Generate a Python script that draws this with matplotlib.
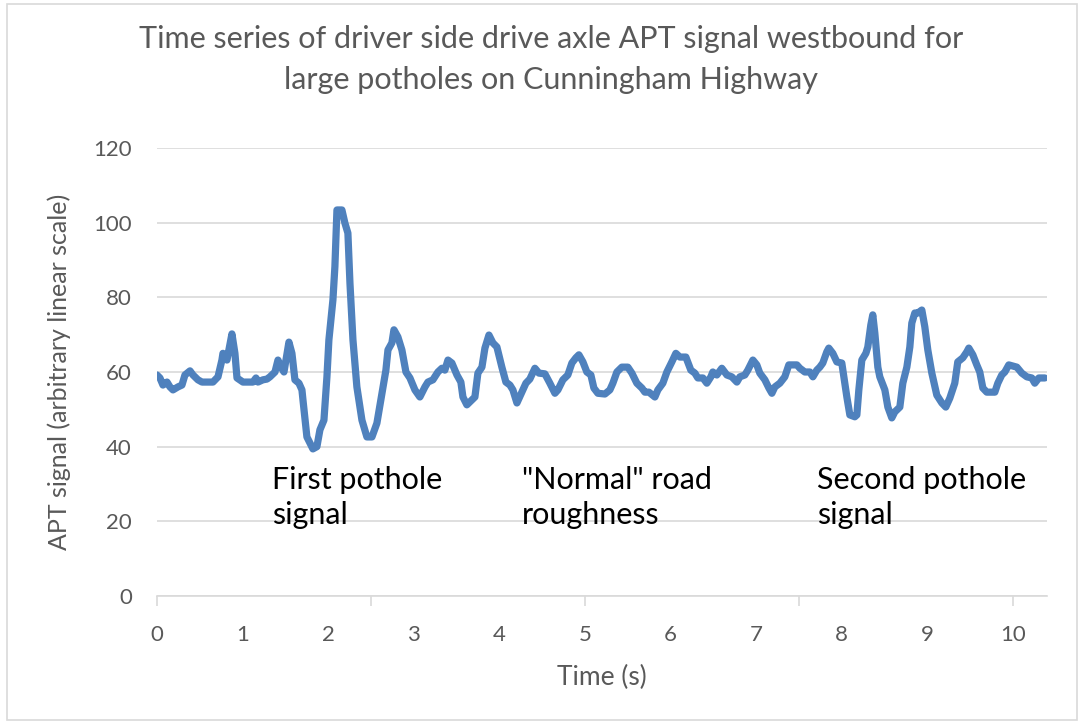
import numpy as np
import matplotlib.pyplot as plt
from matplotlib.patches import Rectangle
from matplotlib.ticker import FixedLocator

# =========================
# Data
# =========================
t = [0.00, 0.035, 0.07, 0.117, 0.152, 0.187, 0.245, 0.292, 0.327, 0.386,
     0.421, 0.479, 0.526, 0.654, 0.713, 0.759, 0.771, 0.818, 0.876, 0.911,
     0.935, 1.005, 1.121, 1.157, 1.18, 1.238, 1.285, 1.32, 1.379, 1.414,
     1.449, 1.484, 1.542, 1.577, 1.612, 1.659, 1.694, 1.706, 1.752, 1.822,
     1.869, 1.904, 1.951, 1.986, 2.009, 2.056, 2.079, 2.103, 2.161, 2.196,
     2.231, 2.255, 2.29, 2.336, 2.395, 2.453, 2.512, 2.57, 2.629, 2.675,
     2.699, 2.745, 2.769, 2.815, 2.862, 2.909, 2.956, 3.014, 3.072, 3.131,
     3.166, 3.224, 3.283, 3.329, 3.364, 3.4, 3.446, 3.505, 3.551, 3.575,
     3.621, 3.68, 3.715, 3.75, 3.797, 3.832, 3.879, 3.925, 3.972, 4.03,
     4.077, 4.124, 4.159, 4.206, 4.264, 4.311, 4.357, 4.416, 4.463, 4.533,
     4.591, 4.65, 4.685, 4.743, 4.801, 4.848, 4.895, 4.93, 4.977, 5.023,
     5.07, 5.105, 5.152, 5.234, 5.292, 5.327, 5.374, 5.432, 5.502, 5.549,
     5.607, 5.666, 5.701, 5.748, 5.818, 5.853, 5.911, 5.958, 6.016, 6.063,
     6.11, 6.18, 6.238, 6.285, 6.32, 6.379, 6.425, 6.472, 6.495, 6.542,
     6.600, 6.659, 6.717, 6.776, 6.811, 6.869, 6.904, 6.963, 7.009, 7.044,
     7.103, 7.15, 7.185, 7.22, 7.278, 7.336, 7.383, 7.477, 7.512, 7.57,
     7.629, 7.664, 7.710, 7.745, 7.780, 7.827, 7.85, 7.897, 7.944, 8.002,
     8.026, 8.061, 8.096, 8.154, 8.178, 8.201, 8.236, 8.283, 8.306, 8.341,
     8.364, 8.388, 8.423, 8.446, 8.505, 8.54, 8.586, 8.621, 8.68, 8.715,
     8.762, 8.797, 8.820, 8.855, 8.890, 8.937, 8.972, 9.007, 9.054, 9.112,
     9.171, 9.217, 9.264, 9.322, 9.357, 9.416, 9.463, 9.486, 9.533, 9.579,
     9.614, 9.650, 9.696, 9.79, 9.825, 9.871, 9.907, 9.953, 10.0, 10.047,
     10.105, 10.164, 10.222, 10.257, 10.304, 10.374]

apt = [59.2, 58.4, 56.5, 57.3, 56.0, 55.2, 56.0, 56.5, 59.2, 60.3,
       59.2, 57.9, 57.3, 57.3, 58.7, 63.2, 65.0, 63.2, 70.2, 65.0,
       58.4, 57.3, 57.3, 58.4, 57.3, 57.9, 58.1, 58.7, 60.0, 63.2,
       61.3, 60.0, 68.0, 65.0, 57.9, 57.0, 55.2, 52.5, 42.6, 39.4,
       40.0, 44.5, 47.1, 58.7, 68.6, 79.3, 88.2, 103.4, 103.4, 99.9,
       97.2, 83.8, 68.6, 56.0, 47.1, 42.6, 42.6, 46.3, 54.3, 60.5,
       65.9, 67.8, 71.3, 69.4, 65.9, 60.0, 58.4, 55.2, 53.3, 56.0,
       57.3, 57.9, 60.0, 61.0, 60.5, 63.2, 62.4, 59.2, 57.3, 53.3,
       51.2, 52.5, 53.3, 59.7, 61.3, 66.4, 69.9, 67.8, 66.7, 61.3,
       57.3, 56.5, 55.2, 51.7, 54.6, 57.0, 58.1, 61.0, 59.7, 59.5,
       57.0, 54.3, 55.2, 57.9, 59.2, 62.4, 63.8, 64.6, 62.7, 60.0,
       59.2, 55.7, 54.3, 54.1, 55.2, 57.0, 60.0, 61.3, 61.3, 59.7,
       57.0, 55.7, 54.6, 54.6, 53.3, 55.2, 57.0, 60.0, 62.7, 65.0,
       64.0, 64.0, 60.5, 59.7, 58.4, 58.4, 57.0, 58.7, 60.0, 59.2,
       61.0, 59.2, 58.7, 57.3, 58.7, 59.2, 60.5, 63.2, 61.9, 59.7,
       57.9, 55.7, 54.3, 56.0, 57.0, 58.7, 61.9, 61.9, 61.0, 60.0,
       60.0, 58.7, 60.5, 61.3, 62.4, 65.4, 66.4, 65.0, 62.7, 62.4,
       58.7, 53.3, 48.5, 48.0, 48.5, 55.2, 63.2, 65.0, 66.7, 72.6,
       75.3, 70.4, 61.3, 58.7, 55.2, 50.6, 47.7, 49.3, 50.6, 57.0,
       61.3, 66.7, 73.1, 75.8, 75.8, 76.6, 72.1, 65.9, 59.7, 53.8,
       51.7, 50.6, 53.0, 57.0, 62.7, 63.8, 65.4, 66.4, 64.6, 61.9,
       60.0, 55.7, 54.6, 54.6, 57.0, 59.2, 60.0, 61.9, 61.6, 61.3,
       59.7, 58.7, 58.4, 57.0, 58.4, 58.4]

labels_x = [1.34, 4.26, 7.71]
labels_txt = ["First pothole\nsignal", "\"Normal\" road\nroughness", "Second pothole\nsignal"]

# =========================
# Figure
# =========================
plt.rcParams['font.family'] = ['Lato', 'DejaVu Sans']
grey = '#595959'

fig = plt.figure(figsize=(10.84, 7.24), dpi=100)
fig.patches.append(Rectangle((0.006, 0.006), 0.988, 0.988, transform=fig.transFigure,
                             fill=False, edgecolor='#d9d9d9', linewidth=1.2))
ax = fig.add_axes([0.1448, 0.1768, 0.8211, 0.6188])

ax.plot(t, apt, color='#4F81BD', linewidth=5.2, solid_joinstyle='round',
        solid_capstyle='round')

ax.set_xlim(0, 10.4)
ax.set_ylim(0, 120)
ax.set_yticks(np.arange(0, 121, 20))
ax.yaxis.grid(True, color='#d9d9d9', linewidth=1.2)
ax.set_axisbelow(True)

# tick marks every 2.5 s, labels every second
ax.xaxis.remove_overlapping_locs = False
ax.xaxis.set_major_locator(FixedLocator([0, 2.5, 5, 7.5, 10]))
ax.xaxis.set_minor_locator(FixedLocator(range(0, 11)))
ax.set_xticklabels([])
ax.set_xticklabels([str(i) for i in range(0, 11)], minor=True)
ax.tick_params(axis='x', which='major', length=7, color='#d9d9d9', width=1.2)
ax.tick_params(axis='x', which='minor', length=0, pad=21, labelsize=16, labelcolor=grey)
ax.tick_params(axis='y', length=0, pad=18, labelsize=16, labelcolor=grey)

for s in ['top', 'right', 'left']:
    ax.spines[s].set_visible(False)
ax.spines['bottom'].set_color('#d9d9d9')
ax.spines['bottom'].set_linewidth(1.2)

for x, txt in zip(labels_x, labels_txt):
    ax.text(x, 34.7, txt, ha='left', va='top', fontsize=22, color='black', linespacing=1.3)

ax.set_xlabel("Time (s)", fontsize=19, color=grey, labelpad=14)
ax.set_ylabel("APT signal (arbitrary linear scale)", fontsize=18, color=grey, labelpad=16)
fig.suptitle("Time series of driver side drive axle APT signal westbound for\nlarge potholes on Cunningham Highway",
             x=0.508, y=0.965, fontsize=22, color=grey, linespacing=1.55)

fig.savefig("out.png", dpi=100)
